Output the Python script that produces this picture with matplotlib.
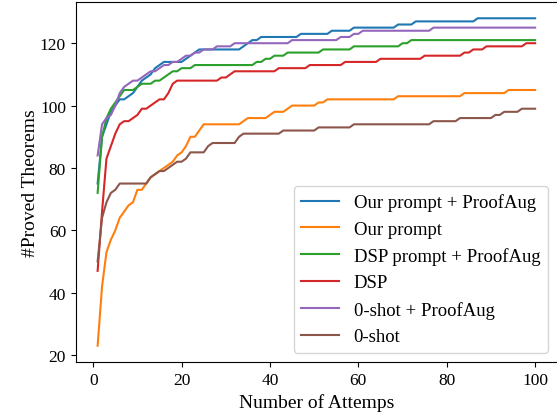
import matplotlib
matplotlib.use("Agg")
import numpy as np
from matplotlib import pyplot as plt

plt.rcParams['font.family'] = ['Liberation Serif', 'DejaVu Serif']

# number of attempts 1..100
attempts = np.arange(1, 101)

our_proofaug = [75, 90, 94, 98, 100, 102, 102, 103, 104, 106,
                108, 109, 110, 112, 113, 114, 114, 114, 114, 114,
                115, 116, 117, 118, 118, 118, 118, 118, 118, 118,
                118, 118, 118, 119, 120, 121, 121, 122, 122, 122,
                122, 122, 122, 122, 122, 122, 123, 123, 123, 123,
                123, 123, 123, 124, 124, 124, 124, 124, 125, 125,
                125, 125, 125, 125, 125, 125, 125, 125, 126, 126,
                126, 126, 127, 127, 127, 127, 127, 127, 127, 127,
                127, 127, 127, 127, 127, 127, 128, 128, 128, 128,
                128, 128, 128, 128, 128, 128, 128, 128, 128, 128]

our_prompt = [23, 42, 53, 57, 60, 64, 66, 68, 69, 73,
              73, 75, 77, 78, 79, 80, 81, 82, 84, 85,
              87, 90, 90, 92, 94, 94, 94, 94, 94, 94,
              94, 94, 94, 95, 96, 96, 96, 96, 96, 97,
              98, 98, 98, 99, 100, 100, 100, 100, 100, 100,
              101, 101, 102, 102, 102, 102, 102, 102, 102, 102,
              102, 102, 102, 102, 102, 102, 102, 102, 103, 103,
              103, 103, 103, 103, 103, 103, 103, 103, 103, 103,
              103, 103, 103, 104, 104, 104, 104, 104, 104, 104,
              104, 104, 104, 105, 105, 105, 105, 105, 105, 105]

dsp_proofaug = [72, 90, 96, 99, 101, 103, 105, 105, 105, 106,
                107, 107, 107, 108, 108, 109, 110, 111, 111, 112,
                112, 112, 113, 113, 113, 113, 113, 113, 113, 113,
                113, 113, 113, 113, 113, 113, 114, 114, 115, 115,
                116, 116, 116, 117, 117, 117, 117, 117, 117, 117,
                117, 118, 118, 118, 118, 118, 118, 118, 119, 119,
                119, 119, 119, 119, 119, 119, 119, 119, 119, 120,
                120, 121, 121, 121, 121, 121, 121, 121, 121, 121,
                121, 121, 121, 121, 121, 121, 121, 121, 121, 121,
                121, 121, 121, 121, 121, 121, 121, 121, 121, 121]

dsp = [47, 66, 83, 87, 91, 94, 95, 95, 96, 97,
       99, 99, 100, 101, 102, 102, 104, 107, 108, 108,
       108, 108, 108, 108, 108, 108, 108, 108, 109, 109,
       110, 111, 111, 111, 111, 111, 111, 111, 111, 111,
       111, 112, 112, 112, 112, 112, 112, 112, 113, 113,
       113, 113, 113, 113, 113, 113, 114, 114, 114, 114,
       114, 114, 114, 114, 115, 115, 115, 115, 115, 115,
       115, 115, 115, 115, 116, 116, 116, 116, 116, 116,
       116, 116, 116, 117, 117, 118, 118, 118, 119, 119,
       119, 119, 119, 119, 119, 119, 119, 120, 120, 120]

zeroshot_proofaug = [84, 94, 96, 97, 100, 104, 106, 107, 108, 108,
                     109, 110, 111, 111, 112, 113, 113, 114, 114, 115,
                     116, 116, 117, 117, 118, 118, 118, 119, 119, 119,
                     119, 120, 120, 120, 120, 120, 120, 120, 120, 120,
                     120, 120, 120, 120, 121, 121, 121, 121, 121, 121,
                     121, 121, 121, 121, 121, 122, 122, 122, 123, 123,
                     124, 124, 124, 124, 124, 124, 124, 124, 124, 124,
                     124, 124, 124, 124, 124, 124, 125, 125, 125, 125,
                     125, 125, 125, 125, 125, 125, 125, 125, 125, 125,
                     125, 125, 125, 125, 125, 125, 125, 125, 125, 125]

zeroshot = [50, 64, 69, 72, 73, 75, 75, 75, 75, 75,
            75, 75, 77, 78, 79, 79, 80, 81, 82, 82,
            83, 85, 85, 85, 85, 87, 88, 88, 88, 88,
            88, 88, 90, 91, 91, 91, 91, 91, 91, 91,
            91, 91, 92, 92, 92, 92, 92, 92, 92, 92,
            93, 93, 93, 93, 93, 93, 93, 93, 94, 94,
            94, 94, 94, 94, 94, 94, 94, 94, 94, 94,
            94, 94, 94, 94, 94, 94, 95, 95, 95, 95,
            95, 95, 96, 96, 96, 96, 96, 96, 96, 96,
            97, 97, 98, 98, 98, 98, 99, 99, 99, 99]

series = [
    (our_proofaug, "Our prompt + ProofAug"),
    (our_prompt, "Our prompt"),
    (dsp_proofaug, "DSP prompt + ProofAug"),
    (dsp, "DSP"),
    (zeroshot_proofaug, "0-shot + ProofAug"),
    (zeroshot, "0-shot"),
]

fig = plt.figure(figsize=(5.57, 4.14), dpi=100)
ax = fig.add_axes([0.136, 0.123, 0.864, 0.870])

for values, name in series:
    ax.plot(attempts, values, label=name)

ax.set_xlabel('Number of Attemps', fontsize=14)
ax.set_ylabel('#Proved Theorems', fontsize=14, labelpad=1)
ax.tick_params(labelsize=12.5)
ax.spines['right'].set_visible(False)
ax.legend(loc='lower right', fontsize=13.5)

fig.savefig('out.png', dpi=100)
